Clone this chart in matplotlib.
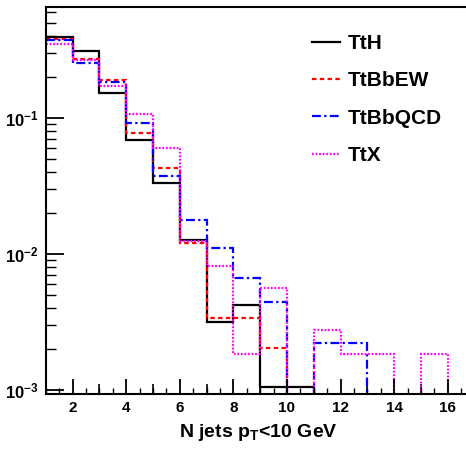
import numpy as np
import matplotlib
matplotlib.use("Agg")
import matplotlib.pyplot as plt
from matplotlib.ticker import MultipleLocator, LogLocator, NullFormatter, FixedLocator

plt.rcParams['font.family'] = ['Liberation Sans', 'DejaVu Sans']
plt.rcParams['font.weight'] = 'bold'
plt.rcParams['mathtext.fontset'] = 'custom'
plt.rcParams['mathtext.rm'] = 'Liberation Sans:bold'
plt.rcParams['mathtext.it'] = 'Liberation Sans:bold'
plt.rcParams['mathtext.bf'] = 'Liberation Sans:bold'

# bin edges: N jets from 1 to 17, width 1
edges = np.arange(1, 18)
tth = [0.396, 0.313, 0.153, 0.069, 0.0334, 0.0127, 0.00316, 0.00421,
       0.00106, 0.00106, 0, 0, 0, 0, 0, 0]
ttbb_ew = [0.379, 0.273, 0.190, 0.078, 0.0432, 0.0121, 0.00336, 0.00336,
           0.00203, 0, 0, 0, 0, 0, 0, 0]
ttbb_qcd = [0.375, 0.255, 0.183, 0.0923, 0.0377, 0.0178, 0.0110, 0.0067,
            0.00442, 0, 0.00223, 0.00223, 0, 0, 0, 0]
ttx = [0.348, 0.265, 0.172, 0.107, 0.0598, 0.0125, 0.0082, 0.00184,
       0.0056, 0, 0.00276, 0.00184, 0.00184, 0, 0.00184, 0]

series = [
    ("TtH", tth, "black", "-"),
    ("TtBbEW", ttbb_ew, "#ff0000", (0, (2, 1.5))),
    ("TtBbQCD", ttbb_qcd, "#0000ff", (0, (4, 1.5, 1, 1.5))),
    ("TtX", ttx, "#ff00ff", (0, (0.8, 0.8))),
]

W, H = 466, 450
fig = plt.figure(figsize=(W / 100, H / 100), dpi=100)
# axes frame: x=1 at 45.7px, 26.8px per unit (runs off the right edge)
left, right = 45.7, 45.7 + 16 * 26.8
top, bottom = 7.3, 394
ax = fig.add_axes([left / W, 1 - bottom / H, (right - left) / W, (bottom - top) / H])

for name, vals, col, ls in series:
    v = np.asarray(vals, dtype=float)
    v = np.where(v > 0, v, 1e-6)  # empty bins drop to the floor
    ax.stairs(v, edges, baseline=None, color=col, linestyle=ls, lw=1.6, label=name)

ax.set_yscale('log')
ax.set_xlim(1, 17)
ax.set_ylim(0.000935, 0.652)

for s in ax.spines.values():
    s.set_linewidth(1.5)

ax.xaxis.set_major_locator(MultipleLocator(2))
ax.xaxis.set_minor_locator(MultipleLocator(0.5))
ax.tick_params(axis='x', which='major', direction='in', length=11, width=1.3,
               labelsize=11, pad=5)
ax.tick_params(axis='x', which='minor', direction='in', length=4, width=1.0)

sec = ax.secondary_xaxis('bottom')
sec.xaxis.set_major_locator(FixedLocator(np.arange(3, 17, 2)))
sec.tick_params(direction='in', length=7, width=1.2, labelbottom=False)
sec.spines['bottom'].set_visible(False)

ax.yaxis.set_major_locator(LogLocator(base=10, numticks=10))
ax.yaxis.set_minor_locator(LogLocator(base=10, subs=np.arange(2, 10), numticks=10))
ax.yaxis.set_minor_formatter(NullFormatter())
ax.yaxis.set_major_formatter(plt.FuncFormatter(lambda y, p: r'$10^{%d}$' % round(np.log10(y))))
ax.tick_params(axis='y', which='major', direction='in', length=13, width=1.3,
               labelsize=12, pad=5)
ax.tick_params(axis='y', which='minor', direction='in', length=7, width=1.0)

ax.set_xlabel(r'N jets p$_{T}$<10 GeV', fontsize=14, fontweight='bold', labelpad=4)
ax.xaxis.set_label_coords((258 - left) / (right - left), -0.072)

leg = ax.legend(loc='upper left', bbox_to_anchor=(312 / W, 1 - 34 / H),
                bbox_transform=fig.transFigure, frameon=False, fontsize=15,
                handlelength=1.35, handletextpad=0.35, labelspacing=0.88,
                borderpad=0, borderaxespad=0)
for t in leg.get_texts():
    t.set_fontweight('bold')

fig.savefig('out.png', dpi=100)
